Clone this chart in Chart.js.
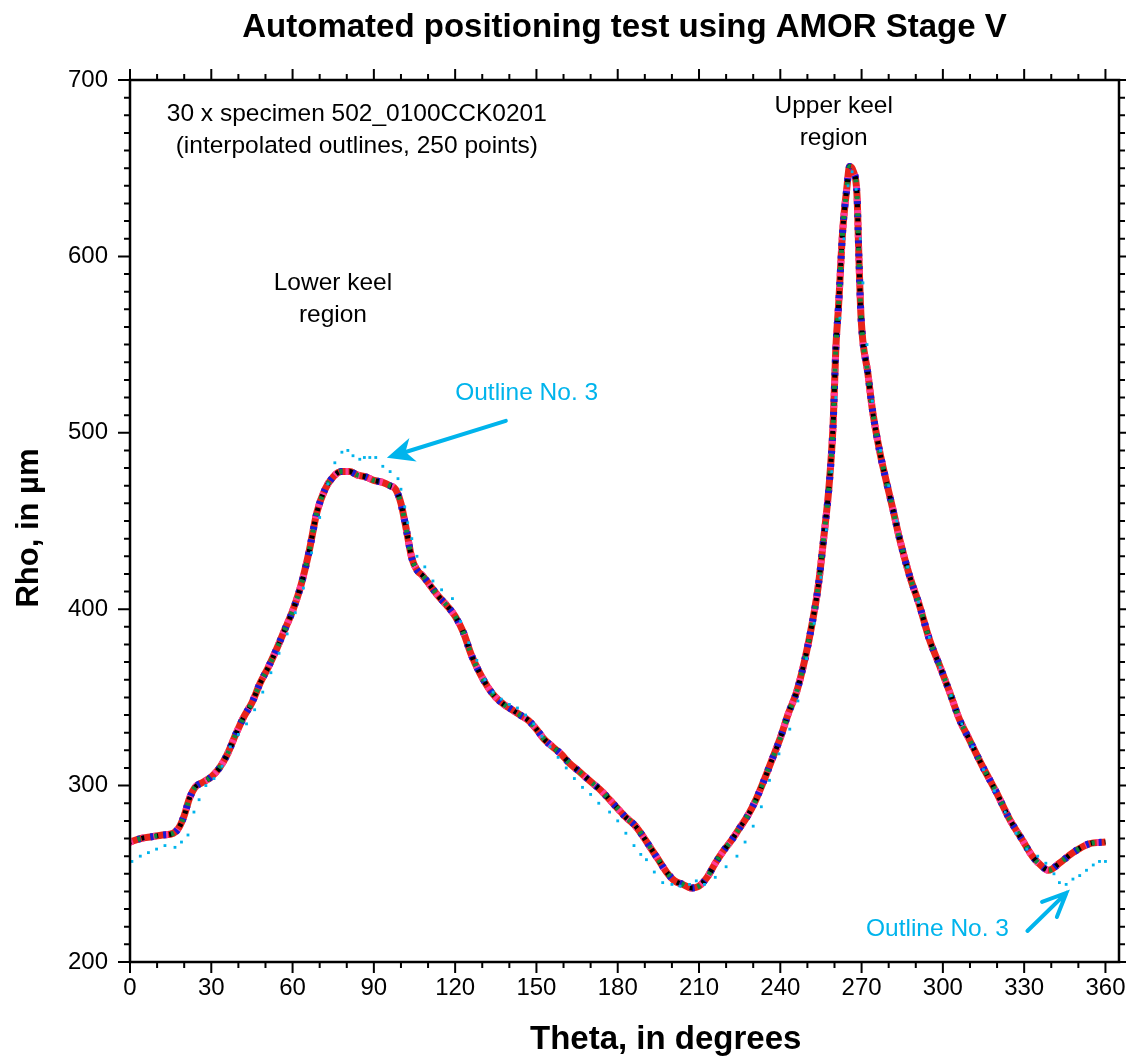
<!DOCTYPE html>
<html>
<head>
<meta charset="utf-8">
<script src="https://cdn.jsdelivr.net/npm/chart.js@4.4.1/dist/chart.umd.min.js"></script>
<style>
body{margin:0;background:#fff}
</style>
</head>
<body>
<canvas id="myChart" width="1126" height="1064"></canvas>
<script>
// tick labels
const xTicks=[0,30,60,90,120,150,180,210,240,270,300,330,360];
const yTicks=[200,300,400,500,600,700];

// mean band of the 30 outlines (theta in degrees, rho in um)
const theta=[0,4,8,12,16,18,20,22,24,27,30,33,36,39,42,45,48,51,54,57,60,63,66,69,72,75,78,81,84,87,90,93,96,98,100,102,104,106,108,111,114,117,120,123,126,129,132,135,138,141,144,147,150,153,156,159,162,165,168,171,174,177,180,183,186,189,192,195,198,201,204,207,210,213,216,219,222,225,228,231,234,237,240,243,246,249,252,254,256,258,259.5,260.5,261.5,263,264.5,265.6,267,268.3,269,269.6,270.4,272.2,274,276.6,279.2,281.5,284,287.7,291.4,295,298.8,302.5,306,309.8,314.6,319.8,324.6,329.4,333,336,339,343,348,354,360];
const rhoMean=[268,270,271,272,273,276,283,293,299,302,305,310,318,329,339,347,358,367,377,388,399,413,432,455,468,475,478,478,476,475,473,472,470,468,460,445,429,422,419,413,407,402,396,387,374,364,356,350,346,343,340,337,332,326,322,318,313,309,305,301,297,292,287,282,278,272,265,258,251,246,244,242,243,248,256,263,269,276,283,292,303,315,327,341,353,371,394,413,440,470,505,548,572,614,638,651,648,635,600,572,553,535,513,490,472,457,440,419,402,383,368,353,338,326,311,296,281,269,260,255,252,256,262,267,268];

// outline No. 3 (cyan)
const theta3=[0.7,3.8,6.8,9.8,12.9,16.6,19,21.4,23.6,25.5,28,31,34,37,40,43,46,49,52,55,58,61,64,67,70,73,75.6,78.2,80.4,82.3,84.8,86.5,88.5,90.7,93.3,96,98.9,100,101.4,102.5,104,105.9,108.8,111.8,115,119,122,125,128,131,134,137,140,143,146,149,152,155,158,161,164,167,170,173,177,180,183,186,188.5,190.6,193.5,196.6,200,203,206.5,209,212,216,220,224,227,230,233,236,239.5,243.5,246.5,249.7,252.5,255,257,259,260.5,262,263.5,265,266.5,268,269.5,270.5,272,274,277,280,283,287,291,295,299,303,307,311,315,319,323,327,331,335,338,341,343,345.5,348,350.5,353,355.5,357.8,360];
const rho3=[257,260,262,264,266,265,268,272,285,292,300,304,311,322,329,335,343,353,364,375,386,398,412,432,452,471,483,489,490,487,485,486,486,486,481,478,474,468,458,449,440,430,424,416,411,406,393,381,371,360,353,349,346,344,340,335,328,322,316,310,304,299,295,290,285,280,273,266,261,258,251,245,244,243,244,246,244,248,254,260,268,277,288,303,318,332,348,372,392,418,445,478,520,565,610,640,648,638,610,585,550,518,490,470,450,424,404,384,367,351,335,322,309,297,285,273,264,260,256,250,245,244,247,249,252,255,257,257];

const FONT='"Liberation Sans", Arial, sans-serif';
const CYAN='#00b4ec';

// text and arrows placed in data coordinates
const notes=[
  {text:'30 x specimen 502_0100CCK0201',x:83.7,y:680.7,color:'#000'},
  {text:'(interpolated outlines, 250 points)',x:83.7,y:662.5,color:'#000'},
  {text:'Upper keel',x:259.7,y:685,color:'#000'},
  {text:'region',x:259.7,y:667,color:'#000'},
  {text:'Lower keel',x:74.9,y:585,color:'#000'},
  {text:'region',x:74.9,y:566.5,color:'#000'},
  {text:'Outline No. 3',x:146.4,y:522.7,color:CYAN},
  {text:'Outline No. 3',x:298,y:218.8,color:CYAN}
];
const arrows=[
  {from:[138.7,506.8],to:[94.8,485.8],filled:true},
  {from:[331.2,217.6],to:[345.6,239.2],filled:false}
];

const meanPts=theta.map(function(t,i){return {x:t,y:rhoMean[i]}});
const pts3=theta3.map(function(t,i){return {x:t,y:rho3[i]}});

function bandLayer(color,width,dash,offset,order){
  return {
    data:meanPts,showLine:true,pointRadius:0,
    borderColor:color,borderWidth:width,borderDash:dash,borderDashOffset:offset,
    cubicInterpolationMode:'monotone',borderCapStyle:'butt',order:order
  };
}

const framePlugin={
  id:'frame',
  afterDraw:function(chart){
    const ctx=chart.ctx, a=chart.chartArea;
    const xs=chart.scales.x, ys=chart.scales.y;
    ctx.save();
    ctx.strokeStyle='#000';
    ctx.lineWidth=2.5;
    ctx.strokeRect(a.left,a.top,a.right-a.left,a.bottom-a.top);
    ctx.lineWidth=2;
    ctx.beginPath();
    for(let v=0;v<=360;v+=10){
      const px=xs.getPixelForValue(v);
      const len=(v%30===0)?11:6;
      ctx.moveTo(px,a.bottom);ctx.lineTo(px,a.bottom+len);
      ctx.moveTo(px,a.top);ctx.lineTo(px,a.top-len);
    }
    for(let v=200;v<=700;v+=10){
      const py=ys.getPixelForValue(v);
      const len=(v%100===0)?12:6;
      ctx.moveTo(a.left,py);ctx.lineTo(a.left-len,py);
      ctx.moveTo(a.right,py);ctx.lineTo(a.right+len,py);
    }
    ctx.stroke();

    // titles
    ctx.fillStyle='#000';
    ctx.textAlign='center';
    ctx.textBaseline='middle';
    ctx.font='bold 33px '+FONT;
    ctx.fillText('Automated positioning test using AMOR Stage V',(a.left+a.right)/2,a.top-52);
    ctx.fillText('Theta, in degrees',xs.getPixelForValue(197.7),a.bottom+78);
    ctx.save();
    ctx.translate(a.left-101,(a.top+a.bottom)/2+7);
    ctx.rotate(-Math.PI/2);
    ctx.font='bold 31px '+FONT;
    ctx.fillText('Rho, in \u00b5m',0,0);
    ctx.restore();

    // notes
    ctx.font='24.5px '+FONT;
    notes.forEach(function(n){
      ctx.fillStyle=n.color;
      ctx.fillText(n.text,xs.getPixelForValue(n.x),ys.getPixelForValue(n.y));
    });

    // arrows
    ctx.strokeStyle=CYAN;ctx.fillStyle=CYAN;ctx.lineWidth=4;ctx.lineCap='round';
    arrows.forEach(function(ar){
      const x0=xs.getPixelForValue(ar.from[0]),y0=ys.getPixelForValue(ar.from[1]);
      const x1=xs.getPixelForValue(ar.to[0]),y1=ys.getPixelForValue(ar.to[1]);
      const ang=Math.atan2(y1-y0,x1-x0);
      const hl=ar.filled?30:26, sp=0.42;
      const bx1=x1-hl*Math.cos(ang-sp),by1=y1-hl*Math.sin(ang-sp);
      const bx2=x1-hl*Math.cos(ang+sp),by2=y1-hl*Math.sin(ang+sp);
      ctx.beginPath();
      ctx.moveTo(x0,y0);
      if(ar.filled){
        ctx.lineTo(x1-hl*0.6*Math.cos(ang),y1-hl*0.6*Math.sin(ang));
        ctx.stroke();
        ctx.beginPath();
        ctx.moveTo(x1,y1);ctx.lineTo(bx1,by1);
        ctx.lineTo(x1-hl*0.65*Math.cos(ang),y1-hl*0.65*Math.sin(ang));
        ctx.lineTo(bx2,by2);ctx.closePath();ctx.fill();
      }else{
        ctx.lineTo(x1,y1);
        ctx.moveTo(bx1,by1);ctx.lineTo(x1,y1);ctx.lineTo(bx2,by2);
        ctx.stroke();
      }
    });
    ctx.restore();
  }
};

const ThisChart=document.getElementById('myChart');
const myChart=new Chart(ThisChart,{
  type:'scatter',
  data:{
    datasets:[
      bandLayer('#e8231a',7,[],0,6),
      bandLayer('#ff3d9a',7,[3,9],0,5),
      bandLayer('#1a1ad6',7,[3,10],5,4),
      bandLayer('#000000',5,[3,11],2,3),
      bandLayer('#118a3c',5,[3,14],9,2),
      {
        label:'Outline No. 3',data:pts3,showLine:false,
        pointStyle:'rect',pointRadius:2,pointBorderWidth:0,
        backgroundColor:CYAN,borderColor:CYAN,order:1
      }
    ]
  },
  options:{
    responsive:false,
    animation:false,
    layout:{padding:{left:66,right:7,top:80,bottom:62}},
    plugins:{legend:{display:false},tooltip:{enabled:false},title:{display:false}},
    scales:{
      x:{
        type:'linear',min:0,max:365,
        grid:{display:false,drawTicks:false},
        border:{display:false},
        afterBuildTicks:function(s){s.ticks=xTicks.map(function(v){return {value:v}})},
        afterFit:function(s){s.height=40;s.paddingLeft=0;s.paddingRight=0},
        ticks:{color:'#000',padding:12,maxRotation:0,font:{family:FONT,size:24}}
      },
      y:{
        type:'linear',min:200,max:700,
        grid:{display:false,drawTicks:false},
        border:{display:false},
        afterBuildTicks:function(s){s.ticks=yTicks.map(function(v){return {value:v}})},
        afterFit:function(s){s.width=64;s.paddingTop=0;s.paddingBottom=0},
        ticks:{color:'#000',padding:22,font:{family:FONT,size:24}}
      }
    }
  },
  plugins:[framePlugin]
});
</script>
</body>
</html>
